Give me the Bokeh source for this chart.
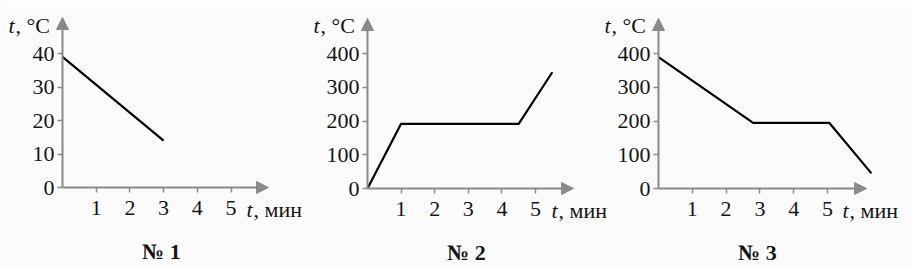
from bokeh.plotting import figure
from bokeh.models import Range1d, FixedTicker, Arrow, NormalHead, Label, LinearAxis
from bokeh.embed import file_html
from bokeh.resources import INLINE

# ---- data ----
x_ticks = [1, 2, 3, 4, 5]
y_ticks_1 = [0, 10, 20, 30, 40]
y_ticks_23 = [0, 100, 200, 300, 400]

t1 = [0, 3]
temp1 = [39, 14]

t2 = [0, 1, 4.5, 5.5]
temp2 = [0, 192, 192, 345]

t3 = [0, 2.8, 5.05, 6.3]
temp3 = [390, 195, 195, 45]

y_title_italic = "t"
y_title_rest = ",  °C"
x_title_italic = "t"
x_title_rest = ", мин"
panel_names = ["№ 1", "№ 2", "№ 3"]

FONT = "Liberation Serif"
GRAY = "#8a8a8a"
BG = "#fbfbfb"
W, H = 912, 266

p = figure(width=W, height=H, output_backend="svg", toolbar_location=None,
           title=None, x_axis_type=None, y_axis_type=None,
           x_range=Range1d(0, W), y_range=Range1d(0, H), min_border=0)
p.background_fill_color = BG
p.border_fill_color = BG
p.outline_line_color = None
p.grid.visible = False


def add_panel(k, ox, oy, xu, yu, yticks, xs, ys, xtip_px, ytip_px, name):
    xr, yr = f"x{k}", f"y{k}"
    p.extra_x_ranges[xr] = Range1d(-ox / xu, (W - ox) / xu)
    p.extra_y_ranges[yr] = Range1d(-(H - oy) / yu, oy / yu)
    rn = dict(x_range_name=xr, y_range_name=yr)

    xa = LinearAxis(ticker=FixedTicker(ticks=x_ticks), fixed_location=0, **rn)
    ya = LinearAxis(ticker=FixedTicker(ticks=yticks), fixed_location=0, **rn)
    for ax in (xa, ya):
        ax.axis_line_color = None
        ax.major_tick_line_color = GRAY
        ax.major_tick_line_width = 1.5
        ax.major_tick_out = 5
        ax.major_tick_in = 0
        ax.minor_tick_line_color = None
        ax.major_label_text_font = FONT
        ax.major_label_text_font_size = "22px"
        ax.major_label_text_color = "#151515"
    xa.major_label_standoff = 8
    ya.major_label_standoff = 3
    p.add_layout(xa, "below")
    p.add_layout(ya, "left")

    # axes arrows
    head = dict(fill_color=GRAY, line_color=GRAY, size=12)
    p.add_layout(Arrow(end=NormalHead(**head), x_start=0, y_start=0,
                       x_end=xtip_px / xu, y_end=0, line_color=GRAY, line_width=2, **rn))
    p.add_layout(Arrow(end=NormalHead(**head), x_start=0, y_start=0,
                       x_end=0, y_end=ytip_px / yu, line_color=GRAY, line_width=2, **rn))

    # data line
    p.line(xs, ys, line_color="black", line_width=2.2, **rn)

    lab = dict(text_font=FONT, text_font_size="22px", text_color="#151515",
               text_baseline="alphabetic", **rn)
    # y title
    p.add_layout(Label(x=-54 / xu, y=(oy - 25) / yu, text=y_title_italic,
                       text_font_style="italic", **lab))
    p.add_layout(Label(x=-47 / xu, y=(oy - 25) / yu, text=y_title_rest, **lab))
    # x title
    p.add_layout(Label(x=184 / xu, y=-22 / yu, text=x_title_italic,
                       text_font_style="italic", **lab))
    p.add_layout(Label(x=191 / xu, y=-22 / yu, text=x_title_rest, **lab))
    # panel name
    p.add_layout(Label(x=99 / xu, y=-64 / yu, text=name, text_align="center",
                       text_font_style="bold", **lab))


add_panel(1, 62, 187, 33.7, 3.35, y_ticks_1, t1, temp1, 206, 170, panel_names[0])
add_panel(2, 367, 188, 33.6, 0.337, y_ticks_23, t2, temp2, 206, 170, panel_names[1])
add_panel(3, 658, 188, 33.8, 0.337, y_ticks_23, t3, temp3, 208, 170, panel_names[2])

open("out.html", "w").write(file_html(p, INLINE))
